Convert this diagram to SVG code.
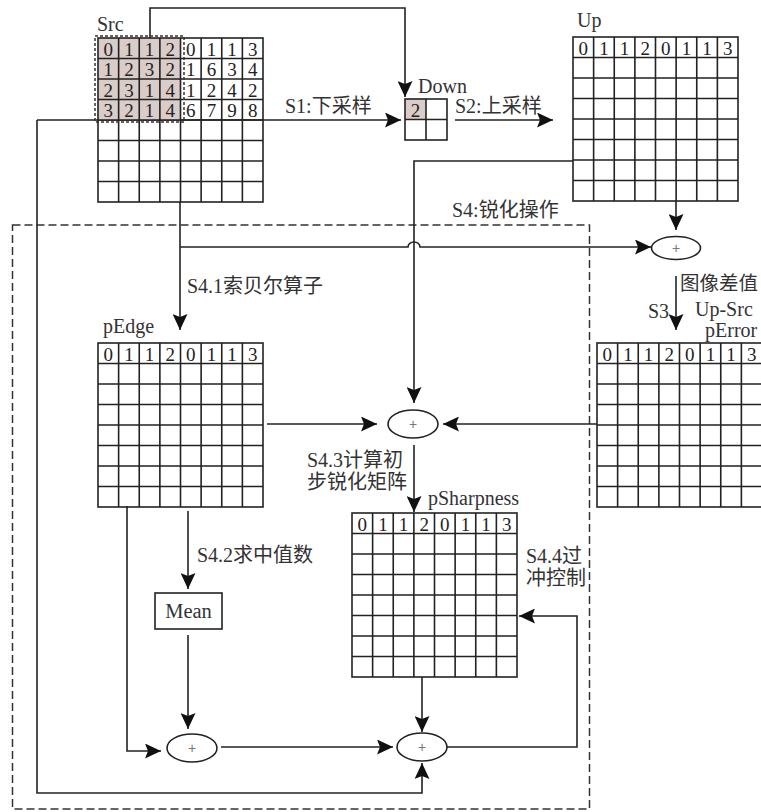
<svg xmlns="http://www.w3.org/2000/svg" xmlns:xlink="http://www.w3.org/1999/xlink" width="761" height="812" viewBox="0 0 761 812">
<style>
  .ln{fill:none;stroke:#222;stroke-width:1.6}
  .g{fill:none;stroke:#222;stroke-width:1.6}
  .d{font-family:"Liberation Serif","Noto Sans CJK SC",serif;font-size:19px;fill:#222;text-anchor:middle}
  .t{font-family:"Liberation Serif","Noto Sans CJK SC",serif;font-size:20px;fill:#333}
  .pl{font-family:"Liberation Sans",sans-serif;font-size:14px;fill:#777;text-anchor:middle}
  .el{fill:#fff;stroke:#222;stroke-width:1.6}
  .sh{fill:#d9ccc9}
</style>
<defs>
  <marker id="ah" markerUnits="userSpaceOnUse" markerWidth="17" markerHeight="15" refX="16" refY="7.5" orient="auto">
    <path d="M0,0 L16,7.5 L0,15 L3,7.5 Z" fill="#111"/>
  </marker>
  <g id="grid">
    <rect class="g" x="0" y="0" width="165" height="164"/>
    <path class="g" d="M20.625,0V164M41.25,0V164M61.875,0V164M82.5,0V164M103.125,0V164M123.75,0V164M144.375,0V164M0,20.5H165M0,41H165M0,61.5H165M0,82H165M0,102.5H165M0,123H165M0,143.5H165"/>
    <text class="d" y="17.5"><tspan x="10.3">0</tspan><tspan x="30.9">1</tspan><tspan x="51.6">1</tspan><tspan x="72.2">2</tspan><tspan x="92.8">0</tspan><tspan x="113.4">1</tspan><tspan x="134.1">1</tspan><tspan x="154.7">3</tspan></text>
  </g>
</defs>
<rect width="761" height="812" fill="#fff"/>

<g id="sharpen-region">
  <rect x="12.5" y="225" width="577" height="584" fill="none" stroke="#333" stroke-width="1.5" stroke-dasharray="8 4"/>
  <text class="t" x="452" y="217">S4:锐化操作</text>
</g>

<g id="connectors">
  <path class="ln" d="M150,38V8H405V97" marker-end="url(#ah)"/>
  <path class="ln" d="M37,120H401" marker-end="url(#ah)"/>
  <path class="ln" d="M37,120V793H422V763" marker-end="url(#ah)"/>
  <path class="ln" d="M455,120H553" marker-end="url(#ah)"/>
  <path class="ln" d="M676,201V230" marker-end="url(#ah)"/>
  <path class="ln" d="M180,202V330" marker-end="url(#ah)"/>
  <path class="ln" d="M180,247H408A6,5 0 0 1 420,247H651" marker-end="url(#ah)"/>
  <path class="ln" d="M573,161H414V403" marker-end="url(#ah)"/>
  <path class="ln" d="M676,276V330" marker-end="url(#ah)"/>
  <path class="ln" d="M267,424H377" marker-end="url(#ah)"/>
  <path class="ln" d="M597,424H443" marker-end="url(#ah)"/>
  <path class="ln" d="M414,445V512" marker-end="url(#ah)"/>
  <path class="ln" d="M188,511V589" marker-end="url(#ah)"/>
  <path class="ln" d="M188,635V729" marker-end="url(#ah)"/>
  <path class="ln" d="M127,506V751H161" marker-end="url(#ah)"/>
  <path class="ln" d="M221,747H393" marker-end="url(#ah)"/>
  <path class="ln" d="M422,677V732" marker-end="url(#ah)"/>
  <path class="ln" d="M447,747H577V616H519" marker-end="url(#ah)"/>
</g>

<g id="src">
  <rect class="sh" x="98" y="38" width="82.5" height="82"/>
  <use xlink:href="#grid" x="98" y="38"/>
  <text class="d" y="76"><tspan x="108.3">1</tspan><tspan x="128.9">2</tspan><tspan x="149.6">3</tspan><tspan x="170.2">2</tspan><tspan x="190.8">1</tspan><tspan x="211.4">6</tspan><tspan x="232.1">3</tspan><tspan x="252.7">4</tspan></text>
  <text class="d" y="96.5"><tspan x="108.3">2</tspan><tspan x="128.9">3</tspan><tspan x="149.6">1</tspan><tspan x="170.2">4</tspan><tspan x="190.8">1</tspan><tspan x="211.4">2</tspan><tspan x="232.1">4</tspan><tspan x="252.7">2</tspan></text>
  <text class="d" y="117"><tspan x="108.3">3</tspan><tspan x="128.9">2</tspan><tspan x="149.6">1</tspan><tspan x="170.2">4</tspan><tspan x="190.8">6</tspan><tspan x="211.4">7</tspan><tspan x="232.1">9</tspan><tspan x="252.7">8</tspan></text>
  <rect x="95" y="36" width="89" height="86" fill="none" stroke="#333" stroke-width="1.5" stroke-dasharray="3 2"/>
  <text class="t" x="97" y="31">Src</text>
</g>

<g id="down">
  <rect class="sh" x="405" y="99" width="21" height="20.5"/>
  <rect class="g" x="405" y="99" width="42" height="41"/>
  <path class="g" d="M426,99V140M405,119.5H447"/>
  <text class="d" x="415.5" y="116.5">2</text>
  <text class="t" x="418" y="93">Down</text>
</g>

<g id="up">
  <use xlink:href="#grid" x="573" y="37"/>
  <text class="t" x="577" y="27">Up</text>
</g>

<g id="plus-diff">
  <ellipse class="el" cx="676" cy="248" rx="24.5" ry="11.5"/>
  <text class="pl" x="676" y="253">+</text>
</g>

<g id="perror">
  <use xlink:href="#grid" x="597" y="343"/>
  <text class="t" x="705" y="337">pError</text>
</g>

<g id="pedge">
  <use xlink:href="#grid" x="98" y="343"/>
  <text class="t" x="103" y="333">pEdge</text>
</g>

<g id="plus-mid">
  <ellipse class="el" cx="413" cy="424" rx="25" ry="14"/>
  <text class="pl" x="413" y="429">+</text>
</g>

<g id="psharpness">
  <use xlink:href="#grid" x="352" y="513"/>
  <text class="t" x="428" y="505">pSharpness</text>
</g>

<g id="mean">
  <rect x="155" y="593" width="67" height="36" fill="#fff" stroke="#222" stroke-width="1.6"/>
  <text class="t" x="188.5" y="618" text-anchor="middle" style="font-size:20.5px">Mean</text>
</g>

<g id="plus-left">
  <ellipse class="el" cx="192" cy="748" rx="25" ry="14"/>
  <text class="pl" x="192" y="753">+</text>
</g>

<g id="plus-bottom">
  <ellipse class="el" cx="422" cy="747" rx="25" ry="14"/>
  <text class="pl" x="422" y="752">+</text>
</g>

<g id="labels">
  <text class="t" x="285" y="113">S1:下采样</text>
  <text class="t" x="455" y="113">S2:上采样</text>
  <text class="t" x="187" y="293">S4.1索贝尔算子</text>
  <text class="t" x="680" y="290" style="font-size:19.5px">图像差值</text>
  <text class="t" x="648" y="318">S3</text>
  <text class="t" x="695" y="316">Up-Src</text>
  <text class="t" x="307" y="467">S4.3计算初</text>
  <text class="t" x="307" y="489">步锐化矩阵</text>
  <text class="t" x="526" y="563">S4.4过</text>
  <text class="t" x="526" y="585">冲控制</text>
  <text class="t" x="197" y="562">S4.2求中值数</text>
</g>
</svg>
